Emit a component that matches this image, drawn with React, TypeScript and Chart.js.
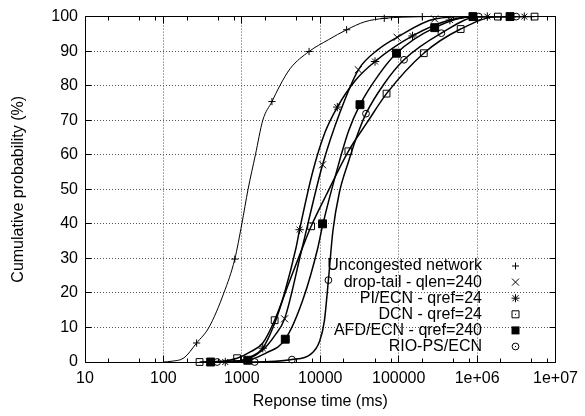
import React, { useEffect, useRef } from "react";
import { Chart, registerables } from "chart.js";

Chart.register(...registerables);

const FONT_FAMILY = '"Liberation Sans", Arial, Helvetica, sans-serif';

// ---------------- Data ----------------
const seriesLabels = [
  "Uncongested network",
  "drop-tail - qlen=240",
  "PI/ECN - qref=24",
  "DCN - qref=24",
  "AFD/ECN - qref=240",
  "RIO-PS/ECN",
];

const xTickValues = [10, 100, 1000, 10000, 100000, 1000000, 10000000];
const xTickLabels = ["10", "100", "1000", "10000", "100000", "1e+06", "1e+07"];
const xMinorMultipliers = [2, 5, 8];
const yTickValues = [0, 10, 20, 30, 40, 50, 60, 70, 80, 90, 100];

// Uncongested network (+)
const uncongMarkX = [265, 813, 2420, 7200, 21700, 65500, 200000];
const uncongMarkY = [5.5, 29.8, 75.4, 89.9, 96.2, 99.5, 100];
const uncongCurveX = [100, 125, 183, 265, 380, 590, 813, 1000, 1200, 1490, 1850, 2420, 3050, 4150, 7200, 12700, 21700, 37000, 65500, 200000];
const uncongCurveY = [0, 0.2, 1.2, 5.5, 10, 20, 29.8, 40, 50, 60, 70, 75.4, 80, 85, 89.9, 93.3, 96.2, 98.5, 99.5, 100];

// drop-tail - qlen=240 (x)
const dropMarkX = [390, 1170, 3510, 10700, 30600, 95500, 288000, 870000, 2600000];
const dropMarkY = [0, 0.8, 12.5, 57.1, 84.6, 94, 99.3, 100, 100];
const dropCurveX = [390, 800, 1170, 1850, 2600, 3510, 5800, 10700, 18000, 30600, 55000, 95500, 288000, 870000, 2600000];
const dropCurveY = [0, 0.2, 0.8, 3.5, 7.5, 12.5, 32.5, 57.1, 72.5, 84.6, 90.5, 94, 99.3, 100, 100];

// PI/ECN - qref=24 (*)
const piMarkX = [615, 1845, 5450, 16500, 49900, 150000, 450000, 1350000, 4000000];
const piMarkY = [0, 4, 38.3, 73.8, 87, 94.4, 99, 100, 100];
const piCurveX = [615, 1000, 1300, 1845, 2600, 3500, 4900, 5450, 8000, 11500, 16500, 28000, 49900, 150000, 450000, 1350000, 4000000];
const piCurveY = [0, 0.5, 1.5, 4, 11, 20, 33, 38.3, 55, 66.5, 73.8, 81.5, 87, 94.4, 99, 100, 100];

// DCN - qref=24 (open square)
const dcnMarkX = [289, 870, 2620, 7650, 22800, 70000, 209000, 617000, 1840000, 5400000];
const dcnMarkY = [0, 1.1, 12.1, 39.3, 61, 77.7, 89.4, 96.4, 100, 100];
const dcnCurveX = [289, 600, 870, 1300, 1850, 2620, 4000, 6400, 7650, 12000, 22800, 40000, 70000, 209000, 617000, 1840000, 5400000];
const dcnCurveY = [0, 0.3, 1.1, 3, 5.5, 12.1, 23, 35, 39.3, 48.5, 61, 69.5, 77.7, 89.4, 96.4, 100, 100];

// AFD/ECN - qref=240 (filled square)
const afdMarkX = [400, 1190, 3580, 10700, 32100, 93800, 288000, 885000, 2630000];
const afdMarkY = [0, 0.5, 6.6, 40, 74.5, 89.4, 96.8, 100, 100];
const afdCurveX = [400, 800, 1190, 2000, 3580, 6000, 9300, 10700, 17000, 22900, 32100, 55000, 93800, 288000, 885000, 2630000];
const afdCurveY = [0, 0.2, 0.5, 2.5, 6.6, 18, 33, 39.5, 57, 66.8, 74.5, 83, 89.4, 96.8, 100, 100];

// RIO-PS/ECN (open circle)
const rioMarkX = [484, 1460, 4350, 12700, 38300, 117000, 350000, 1050000, 3150000];
const rioMarkY = [0, 0, 0.7, 23.7, 71.9, 87.5, 95.2, 100, 100];
const rioCurveX = [484, 1460, 4350, 7500, 9800, 11300, 12700, 14500, 17500, 22900, 30000, 38300, 65000, 117000, 350000, 1050000, 3150000];
const rioCurveY = [0, 0, 0.7, 2.2, 6, 12, 23.7, 38, 49, 58, 66, 71.9, 80.5, 87.5, 95.2, 100, 100];

const markXs = [uncongMarkX, dropMarkX, piMarkX, dcnMarkX, afdMarkX, rioMarkX];
const markYs = [uncongMarkY, dropMarkY, piMarkY, dcnMarkY, afdMarkY, rioMarkY];
const curveXs = [uncongCurveX, dropCurveX, piCurveX, dcnCurveX, afdCurveX, rioCurveX];
const curveYs = [uncongCurveY, dropCurveY, piCurveY, dcnCurveY, afdCurveY, rioCurveY];

// ---------------- Styles ----------------
type MarkerKind = "plus" | "cross" | "star" | "square" | "filled" | "circle";
const markerKinds: MarkerKind[] = ["plus", "cross", "star", "square", "filled", "circle"];
const markerStyle: Record<MarkerKind, { pointStyle: any; radius: number; fill: string }> = {
  plus: { pointStyle: "cross", radius: 3.6, fill: "rgba(0,0,0,0)" },
  cross: { pointStyle: "crossRot", radius: 5, fill: "rgba(0,0,0,0)" },
  star: { pointStyle: "star", radius: 4.2, fill: "rgba(0,0,0,0)" },
  square: { pointStyle: "rect", radius: 4.8, fill: "rgba(0,0,0,0)" },
  filled: { pointStyle: "rect", radius: 5.6, fill: "#000" },
  circle: { pointStyle: "circle", radius: 3.4, fill: "rgba(0,0,0,0)" },
};
const curveWidths = [1, 1.5, 1.5, 1.5, 1.5, 1.5];

function zip(xs: number[], ys: number[]) {
  return xs.map((x, i) => ({ x, y: ys[i] }));
}

function drawLegendMarker(ctx: CanvasRenderingContext2D, kind: MarkerKind, x: number, y: number) {
  ctx.save();
  ctx.strokeStyle = "#000";
  ctx.fillStyle = "#000";
  ctx.lineWidth = 1;
  ctx.beginPath();
  if (kind === "plus") {
    ctx.moveTo(x - 3.5, y); ctx.lineTo(x + 3.5, y);
    ctx.moveTo(x, y - 3.5); ctx.lineTo(x, y + 3.5);
    ctx.stroke();
  } else if (kind === "cross") {
    ctx.moveTo(x - 3.5, y - 3.5); ctx.lineTo(x + 3.5, y + 3.5);
    ctx.moveTo(x + 3.5, y - 3.5); ctx.lineTo(x - 3.5, y + 3.5);
    ctx.stroke();
  } else if (kind === "star") {
    ctx.moveTo(x - 4, y); ctx.lineTo(x + 4, y);
    ctx.moveTo(x, y - 4); ctx.lineTo(x, y + 4);
    ctx.moveTo(x - 3, y - 3); ctx.lineTo(x + 3, y + 3);
    ctx.moveTo(x + 3, y - 3); ctx.lineTo(x - 3, y + 3);
    ctx.stroke();
  } else if (kind === "square") {
    ctx.rect(x - 3.5, y - 3.5, 7, 7);
    ctx.stroke();
    ctx.fillRect(x - 0.5, y - 0.5, 1, 1);
  } else if (kind === "filled") {
    ctx.fillRect(x - 4, y - 4, 8, 8);
  } else {
    ctx.arc(x, y, 3.4, 0, Math.PI * 2);
    ctx.stroke();
    ctx.fillRect(x - 0.5, y - 0.5, 1, 1);
  }
  ctx.restore();
}

const framePlugin = {
  id: "gnuplotFrame",
  beforeDatasetsDraw(chart: any) {
    const { ctx, chartArea: a, scales } = chart;
    const xs = scales.x;
    const ys = scales.y;
    ctx.save();
    ctx.strokeStyle = "#555";
    ctx.lineWidth = 1;
    ctx.setLineDash([1, 2]);
    ctx.beginPath();
    xTickValues.slice(1, -1).forEach((v) => {
      const px = Math.floor(xs.getPixelForValue(v)) + 0.5;
      ctx.moveTo(px, a.top);
      ctx.lineTo(px, a.bottom);
    });
    yTickValues.slice(1, -1).forEach((v) => {
      const py = Math.floor(ys.getPixelForValue(v)) + 0.5;
      ctx.moveTo(a.left, py);
      ctx.lineTo(a.right, py);
    });
    ctx.stroke();
    ctx.restore();
  },
  afterDatasetsDraw(chart: any) {
    const { ctx, chartArea: a, scales } = chart;
    const xs = scales.x;
    const ys = scales.y;
    const L = Math.floor(a.left) + 0.5;
    const R = Math.floor(a.right) + 0.5;
    const T = Math.floor(a.top) + 0.5;
    const B = Math.floor(a.bottom) + 0.5;
    ctx.save();
    ctx.strokeStyle = "#000";
    ctx.lineWidth = 1;
    ctx.setLineDash([]);
    ctx.beginPath();
    ctx.rect(L, T, R - L, B - T);
    xTickValues.forEach((v) => {
      const px = Math.floor(xs.getPixelForValue(v)) + 0.5;
      ctx.moveTo(px, B); ctx.lineTo(px, B - 7);
      ctx.moveTo(px, T); ctx.lineTo(px, T + 7);
    });
    xTickValues.slice(0, -1).forEach((d) => {
      xMinorMultipliers.forEach((m) => {
        const px = Math.floor(xs.getPixelForValue(d * m)) + 0.5;
        ctx.moveTo(px, B); ctx.lineTo(px, B - 4);
        ctx.moveTo(px, T); ctx.lineTo(px, T + 4);
      });
    });
    yTickValues.forEach((v) => {
      const py = Math.floor(ys.getPixelForValue(v)) + 0.5;
      ctx.moveTo(L, py); ctx.lineTo(L + 6, py);
      ctx.moveTo(R, py); ctx.lineTo(R - 6, py);
    });
    ctx.stroke();
    ctx.restore();
  },
  afterDraw(chart: any) {
    const { ctx } = chart;
    ctx.save();
    ctx.font = `16px ${FONT_FAMILY}`;
    ctx.fillStyle = "#000";
    ctx.textAlign = "right";
    ctx.textBaseline = "middle";
    seriesLabels.forEach((label, i) => {
      const y = 266 + i * 16.1;
      ctx.fillText(label, 482, y);
      drawLegendMarker(ctx, markerKinds[i], 515.5, y);
    });
    ctx.restore();
  },
};

export default function App() {
  const canvasRef = useRef<HTMLCanvasElement | null>(null);

  useEffect(() => {
    document.body.style.margin = "0";
    document.body.style.background = "#fff";
    const canvas = canvasRef.current;
    if (!canvas) return;

    const markerSets = seriesLabels.map((label, i) => {
      const st = markerStyle[markerKinds[i]];
      return {
        label,
        data: zip(markXs[i], markYs[i]),
        showLine: false,
        pointStyle: st.pointStyle,
        pointRadius: st.radius,
        pointHoverRadius: st.radius,
        pointBorderWidth: 1,
        pointBorderColor: "#000",
        pointBackgroundColor: st.fill,
        borderColor: "#000",
        backgroundColor: st.fill,
        clip: false as any,
        order: 0,
      };
    });
    const curveSets = seriesLabels.map((label, i) => ({
      label: label + " (fit)",
      data: zip(curveXs[i], curveYs[i]),
      showLine: true,
      borderColor: "#000",
      borderWidth: curveWidths[i],
      pointRadius: 0,
      pointHoverRadius: 0,
      fill: false,
      cubicInterpolationMode: "monotone" as const,
      order: 1,
    }));

    const tickFont = { family: FONT_FAMILY, size: 16 };

    const chart = new Chart(canvas, {
      type: "line",
      data: { datasets: [...markerSets, ...curveSets] as any },
      plugins: [framePlugin as any],
      options: {
        responsive: false,
        animation: false,
        devicePixelRatio: 1,
        events: [],
        layout: { padding: { left: 0, top: 15, right: 27, bottom: 0 } },
        plugins: {
          legend: { display: false },
          tooltip: { enabled: false },
          title: { display: false },
        },
        scales: {
          x: {
            type: "logarithmic",
            min: 10,
            max: 10000000,
            grid: { display: false, drawTicks: false },
            border: { display: false },
            afterBuildTicks: (scale: any) => {
              scale.ticks = xTickValues.map((v) => ({ value: v }));
            },
            afterFit: (scale: any) => {
              scale.height = 54;
            },
            ticks: {
              autoSkip: false,
              maxRotation: 0,
              minRotation: 0,
              padding: 7,
              color: "#000",
              font: tickFont,
              callback: (v: any) => {
                const idx = xTickValues.findIndex((t) => Math.abs(t - Number(v)) / t < 1e-6);
                return idx >= 0 ? xTickLabels[idx] : "";
              },
            },
            title: {
              display: true,
              text: "Reponse time (ms)",
              color: "#000",
              font: tickFont,
              padding: { top: 0, bottom: 5 },
            },
          },
          y: {
            type: "linear",
            min: 0,
            max: 100,
            grid: { display: false, drawTicks: false },
            border: { display: false },
            afterBuildTicks: (scale: any) => {
              scale.ticks = yTickValues.map((v) => ({ value: v }));
            },
            afterFit: (scale: any) => {
              scale.width = 85;
            },
            ticks: {
              autoSkip: false,
              padding: 7,
              color: "#000",
              font: tickFont,
              callback: (v: any) => String(v),
            },
            title: {
              display: true,
              text: "Cumulative probability (%)",
              color: "#000",
              font: tickFont,
              padding: { top: 9, bottom: 0 },
            },
          },
        },
      },
    });

    return () => chart.destroy();
  }, []);

  return (
    <div style={{ width: 585, height: 416 }}>
      <canvas ref={canvasRef} width={585} height={416} />
    </div>
  );
}
